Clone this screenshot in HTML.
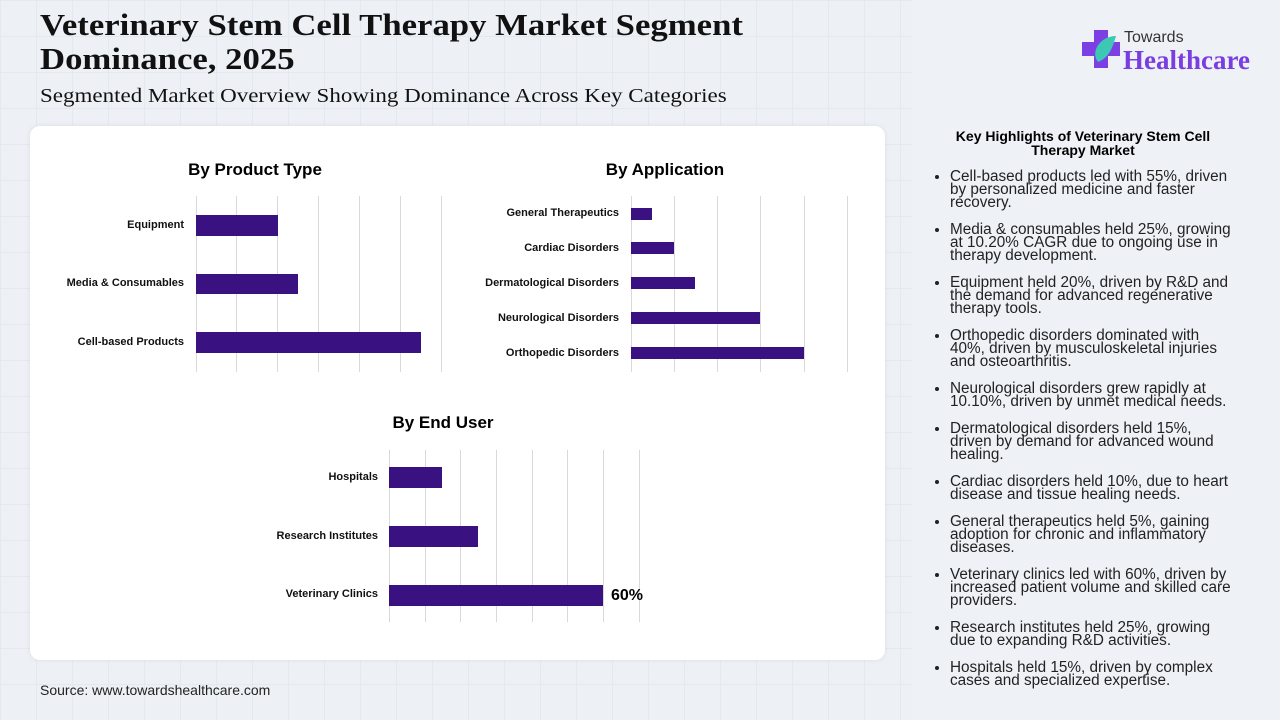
<!DOCTYPE html>
<html><head><meta charset="utf-8"><style>
body{margin:0;width:1280px;height:720px;overflow:hidden;background:#edf1f6;font-family:"Liberation Sans",sans-serif;position:relative;
background-image:linear-gradient(#e4e9f0 1px,transparent 1px),linear-gradient(90deg,#e4e9f0 1px,transparent 1px);background-size:36px 36px}
.t{position:absolute;font-family:"Liberation Serif",serif;color:#111;transform-origin:0 0;white-space:nowrap}
.side{position:absolute;left:912px;top:0;width:368px;height:720px;background:#eef2f7}
.card{position:absolute;left:30px;top:126px;width:855px;height:534px;background:#fff;border-radius:10px;box-shadow:0 0 6px rgba(0,0,0,.08)}
.ab{position:absolute}
.lb{position:absolute;font-size:11px;font-weight:bold;text-align:right;color:#111;white-space:nowrap}
.bar{position:absolute;background:#3a1180}
.gl{position:absolute;width:1px;background:#d9d9d9}
.ct{position:absolute;font-size:17px;font-weight:bold;text-align:center}
ul{position:absolute;left:926px;top:170px;width:284px;margin:0;padding:0 0 0 24px;font-size:15.3px;line-height:13px;color:#222}
li{margin-bottom:14px;padding-left:0}
</style></head><body>
<div class="side"></div>
<div class="t" style="left:40px;top:8px;font-size:31px;font-weight:bold;line-height:34px;transform:scaleX(1.12)">Veterinary Stem Cell Therapy Market Segment<br>Dominance, 2025</div>
<div class="t" style="left:40px;top:85px;font-size:20px;transform:scaleX(1.15)">Segmented Market Overview Showing Dominance Across Key Categories</div>
<svg class="ab" style="left:1080px;top:28px" width="42" height="42" viewBox="0 0 42 42"><path d="M14 2h14v12h12v14H28v12H14V28H2V14h12z" fill="#7b3fe4"/><path d="M18 34C10 24 20 8 36 8 32 22 28 30 18 34z" fill="#3cc8b4"/></svg>
<div class="ab" style="left:1124px;top:29px;font-size:16px;color:#333">Towards</div>
<div class="ab" style="left:1123px;top:45px;font-size:27px;font-weight:bold;color:#7a3ee0;font-family:'Liberation Serif',serif">Healthcare</div>
<div class="card"></div>
<div class="ct" style="left:155px;top:160px;width:200px">By Product Type</div>
<div class="ct" style="left:565px;top:160px;width:200px">By Application</div>
<div class="ct" style="left:343px;top:413px;width:200px">By End User</div>
<div class="gl" style="left:196px;top:196px;height:176px"></div><div class="gl" style="left:236px;top:196px;height:176px"></div><div class="gl" style="left:277px;top:196px;height:176px"></div><div class="gl" style="left:318px;top:196px;height:176px"></div><div class="gl" style="left:359px;top:196px;height:176px"></div><div class="gl" style="left:400px;top:196px;height:176px"></div><div class="gl" style="left:441px;top:196px;height:176px"></div>
<div class="gl" style="left:631px;top:196px;height:176px"></div><div class="gl" style="left:674px;top:196px;height:176px"></div><div class="gl" style="left:717px;top:196px;height:176px"></div><div class="gl" style="left:760px;top:196px;height:176px"></div><div class="gl" style="left:804px;top:196px;height:176px"></div><div class="gl" style="left:847px;top:196px;height:176px"></div>
<div class="gl" style="left:389px;top:450px;height:172px"></div><div class="gl" style="left:425px;top:450px;height:172px"></div><div class="gl" style="left:460px;top:450px;height:172px"></div><div class="gl" style="left:496px;top:450px;height:172px"></div><div class="gl" style="left:532px;top:450px;height:172px"></div><div class="gl" style="left:567px;top:450px;height:172px"></div><div class="gl" style="left:603px;top:450px;height:172px"></div><div class="gl" style="left:639px;top:450px;height:172px"></div>
<div class="lb" style="right:1096px;top:219px">Equipment</div><div class="bar" style="left:196px;top:215px;width:82px;height:21px"></div>
<div class="lb" style="right:1096px;top:277px">Media &amp; Consumables</div><div class="bar" style="left:196px;top:274px;width:102px;height:20px"></div>
<div class="lb" style="right:1096px;top:336px">Cell-based Products</div><div class="bar" style="left:196px;top:332px;width:225px;height:21px"></div>
<div class="lb" style="right:661px;top:207px">General Therapeutics</div><div class="bar" style="left:631px;top:208px;width:21px;height:12px"></div>
<div class="lb" style="right:661px;top:242px">Cardiac Disorders</div><div class="bar" style="left:631px;top:242px;width:43px;height:12px"></div>
<div class="lb" style="right:661px;top:277px">Dermatological Disorders</div><div class="bar" style="left:631px;top:277px;width:64px;height:12px"></div>
<div class="lb" style="right:661px;top:312px">Neurological Disorders</div><div class="bar" style="left:631px;top:312px;width:129px;height:12px"></div>
<div class="lb" style="right:661px;top:347px">Orthopedic Disorders</div><div class="bar" style="left:631px;top:347px;width:173px;height:12px"></div>
<div class="lb" style="right:902px;top:471px">Hospitals</div><div class="bar" style="left:389px;top:467px;width:53px;height:21px"></div>
<div class="lb" style="right:902px;top:530px">Research Institutes</div><div class="bar" style="left:389px;top:526px;width:89px;height:21px"></div>
<div class="lb" style="right:902px;top:588px">Veterinary Clinics</div><div class="bar" style="left:389px;top:585px;width:214px;height:21px"></div>
<div class="ab" style="left:611px;top:587px;font-size:16px;font-weight:bold">60%</div>
<div class="ab" style="left:40px;top:682px;font-size:14px;color:#222">Source: www.towardshealthcare.com</div>
<div class="ab" style="left:936px;top:129px;width:294px;text-align:center;font-size:14px;font-weight:bold;line-height:14px">Key Highlights of Veterinary Stem Cell Therapy Market</div>
<ul>
<li>Cell-based products led with 55%, driven by personalized medicine and faster recovery.</li>
<li>Media &amp; consumables held 25%, growing at 10.20% CAGR due to ongoing use in therapy development.</li>
<li>Equipment held 20%, driven by R&amp;D and the demand for advanced regenerative therapy tools.</li>
<li>Orthopedic disorders dominated with 40%, driven by musculoskeletal injuries and osteoarthritis.</li>
<li>Neurological disorders grew rapidly at 10.10%, driven by unmet medical needs.</li>
<li>Dermatological disorders held 15%, driven by demand for advanced wound healing.</li>
<li>Cardiac disorders held 10%, due to heart disease and tissue healing needs.</li>
<li>General therapeutics held 5%, gaining adoption for chronic and inflammatory diseases.</li>
<li>Veterinary clinics led with 60%, driven by increased patient volume and skilled care providers.</li>
<li>Research institutes held 25%, growing due to expanding R&amp;D activities.</li>
<li>Hospitals held 15%, driven by complex cases and specialized expertise.</li>
</ul>
</body></html>
